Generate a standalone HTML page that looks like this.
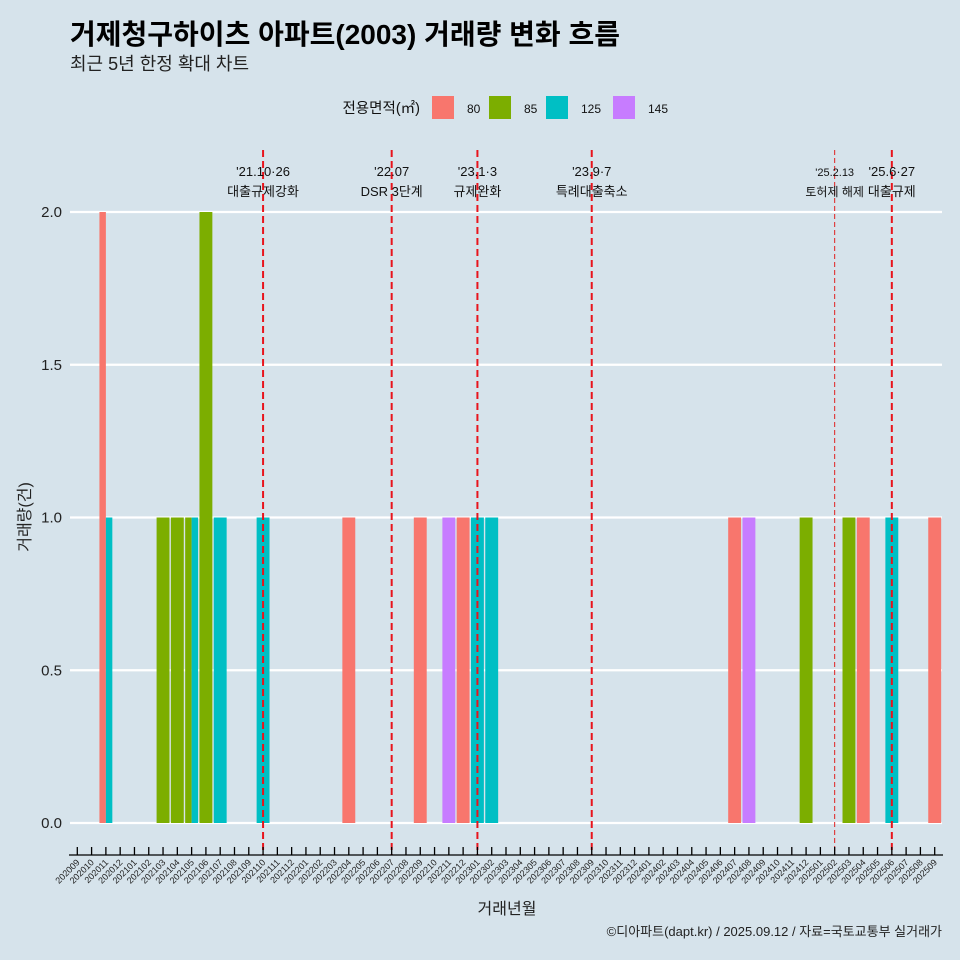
<!DOCTYPE html>
<html><head><meta charset="utf-8">
<style>
body{margin:0;background:#d6e3eb;}
svg{display:block;font-family:"Liberation Sans","Noto Sans CJK KR",sans-serif;}
</style></head>
<body>
<svg id="chart" width="960" height="960" viewBox="0 0 960 960">
<rect width="960" height="960" fill="#d6e3eb"/>
<text x="70" y="44" font-size="28" font-weight="bold" fill="#000" textLength="550" lengthAdjust="spacingAndGlyphs">거제청구하이츠 아파트(2003) 거래량 변화 흐름</text>
<text x="70" y="70" font-size="18" fill="#222">최근 5년 한정 확대 차트</text>
<g id="legend"></g>
<g id="grid"></g>
<g id="bars"></g>
<g id="vlines"></g>
<g id="xaxis"></g>
<g id="yaxis"></g>
<text x="30" y="517" font-size="16" text-anchor="middle" transform="rotate(-90 30 517)" fill="#222">거래량(건)</text>
<text x="507" y="914" font-size="16" text-anchor="middle" fill="#222">거래년월</text>
<text x="942" y="936" font-size="13" text-anchor="end" fill="#222">©디아파트(dapt.kr) / 2025.09.12 / 자료=국토교통부 실거래가</text>
</svg>
<script>
const months = [];
for (let y = 2020, m = 9; months.length < 61; ) { months.push(String(y) + String(m).padStart(2, '0')); m++; if (m > 12) { m = 1; y++; } }
const sizes = ['80', '85', '125', '145'];
const colors = ['#f8766d', '#7cae00', '#00bfc4', '#c77cff'];
const v80 = {'202011':2,'202204':1,'202209':1,'202212':1,'202407':1,'202504':1,'202509':1};
const v85 = {'202103':1,'202104':1,'202105':1,'202106':2,'202412':1,'202503':1};
const v125 = {'202011':1,'202105':1,'202107':1,'202110':1,'202301':1,'202302':1,'202506':1};
const v145 = {'202211':1,'202408':1};
const yTicks = [0, 0.5, 1, 1.5, 2];
const yTickLabels = ['0.0', '0.5', '1.0', '1.5', '2.0'];
const eventMonths = ['202110', '202207', '202301', '202309', '202502', '202506'];
const eventLine1 = ["'21.10·26", "'22.07", "'23.1·3", "'23.9·7", "'25.2.13", "'25.6·27"];
const eventLine2 = ['대출규제강화', 'DSR 3단계', '규제완화', '특례대출축소', '토허제 해제', '대출규제'];

const NS = 'http://www.w3.org/2000/svg';
const X0 = 77.3, STEP = 14.29, Y0 = 823, YPX = 305.5;
const xScale = i => X0 + i * STEP;
const yScale = v => Y0 - v * YPX;
function el(tag, attrs, parent) { const e = document.createElementNS(NS, tag); for (const k in attrs) e.setAttribute(k, attrs[k]); parent.appendChild(e); return e; }

const grid = document.getElementById('grid');
const yaxis = document.getElementById('yaxis');
yTicks.forEach((t, i) => {
  const g = el('line', {x1: 70, x2: 942, y1: yScale(t), y2: yScale(t), stroke: '#fff', 'stroke-width': 2.2}, grid);
  
  
  const lb = el('text', {x: 62, y: yScale(t) + 5, 'font-size': 15, 'text-anchor': 'end', fill: '#222'}, yaxis);
  lb.textContent = yTickLabels[i];
  
  
});

const series = [v80, v85, v125, v145];
const bars = document.getElementById('bars');
const BW = 12.9;
months.forEach((mo, i) => {
  const present = series.map((s, k) => [k, s[mo] || 0]).filter(p => p[1] > 0);
  const n = present.length; if (!n) return;
  const w = BW / n;
  present.forEach((p, j) => {
    const x = xScale(i) - BW / 2 + j * w;
    const r = el('rect', {x: x, y: yScale(p[1]), width: w, height: yScale(0) - yScale(p[1]), fill: colors[p[0]]}, bars);
    
    
  });
});

const vl = document.getElementById('vlines');
eventMonths.forEach((mo, k) => {
  const x = xScale(months.indexOf(mo));
  const thin = mo === '202502';
  const l = el('line', {x1: x, x2: x, y1: 150, y2: 855, stroke: thin ? '#e02020' : '#e8141c', 'stroke-width': thin ? 1 : 2, 'stroke-dasharray': thin ? '5 3' : '7 4'}, vl);
  
  
  const fs = thin ? 11 : 13;
  const t1 = el('text', {x: x, y: 176, 'font-size': fs, 'text-anchor': 'middle', fill: '#111'}, vl);
  t1.textContent = eventLine1[k];
  
  
  const t2 = el('text', {x: x, y: 196, 'font-size': thin ? 12 : 13, 'text-anchor': 'middle', fill: '#111'}, vl);
  t2.textContent = eventLine2[k];
  
  
});

const xa = document.getElementById('xaxis');
const ax = el('line', {x1: 69, x2: 943, y1: 855, y2: 855, stroke: '#000', 'stroke-width': 1.3}, xa);


months.forEach((mo, i) => {
  const x = xScale(i);
  const tk = el('line', {x1: x, x2: x, y1: 847, y2: 855, stroke: '#000', 'stroke-width': 1.3}, xa);
  
  
  const t = el('text', {x: x + 3, y: 863, 'font-size': 9, 'text-anchor': 'end', fill: '#222', transform: 'rotate(-45 ' + (x + 3) + ' 863)'}, xa);
  t.textContent = mo;
  
  
});

const lg = document.getElementById('legend');
const lt = el('text', {x: 420, y: 113, 'font-size': 14.5, 'text-anchor': 'end', fill: '#111'}, lg);
lt.textContent = '전용면적(㎡)';


const keyX = [432, 489, 546, 613];
sizes.forEach((s, k) => {
  const r = el('rect', {x: keyX[k], y: 96, width: 22, height: 23, fill: colors[k]}, lg);
  
  
  const t = el('text', {x: keyX[k] + 35, y: 113, 'font-size': 12, fill: '#111'}, lg);
  t.textContent = s;
  
  
});
</script>
</body></html>
